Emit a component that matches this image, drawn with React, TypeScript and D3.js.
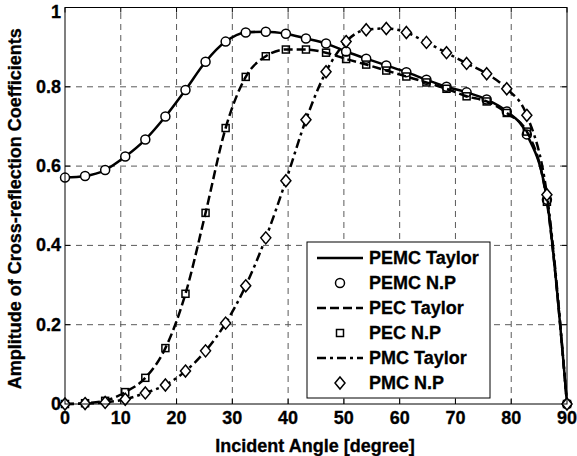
import React from "react";
import * as d3 from "d3";

const angles = [0, 3.6, 7.2, 10.8, 14.4, 18, 21.6, 25.2, 28.8, 32.4, 36, 39.6, 43.2, 46.8, 50.4, 54, 57.6, 61.2, 64.8, 68.4, 72, 75.6, 79.2, 82.8, 86.4, 90];
const pemc = [0.571, 0.575, 0.590, 0.624, 0.667, 0.725, 0.792, 0.863, 0.914, 0.937, 0.939, 0.934, 0.922, 0.909, 0.889, 0.871, 0.854, 0.837, 0.818, 0.800, 0.786, 0.768, 0.738, 0.680, 0.515, 0];
const pec = [0, 0.002, 0.008, 0.03, 0.066, 0.141, 0.278, 0.482, 0.696, 0.825, 0.877, 0.894, 0.894, 0.886, 0.870, 0.856, 0.841, 0.826, 0.811, 0.795, 0.776, 0.763, 0.734, 0.687, 0.51, 0];
const pmc = [0, 0.001, 0.004, 0.012, 0.028, 0.048, 0.083, 0.134, 0.204, 0.298, 0.419, 0.563, 0.717, 0.838, 0.914, 0.944, 0.947, 0.937, 0.912, 0.886, 0.859, 0.833, 0.795, 0.728, 0.528, 0];
const xTicks = [0, 10, 20, 30, 40, 50, 60, 70, 80, 90];
const yTicks = [0, 0.2, 0.4, 0.6, 0.8, 1];
const legendLabels = ["PEMC Taylor", "PEMC N.P", "PEC Taylor", "PEC N.P", "PMC Taylor", "PMC N.P"];

const W = 577, H = 456;
const L = 65, R = 567, T = 7.5, B = 404;
const FONT = "'Liberation Sans', Arial, sans-serif";
const FS = 18;

export default function App() {
  const x = d3.scaleLinear().domain([0, 90]).range([L, R]);
  const y = d3.scaleLinear().domain([0, 1]).range([B, T]);
  const line = (vals: number[]) =>
    d3.line<number>().x((_, i) => x(angles[i])).y((v) => y(v)).curve(d3.curveMonotoneX)(vals) || "";

  const dashPEC = "9,4";
  const dashPMC = "9,4,3,4";

  const circle = (cx: number, cy: number, k: string) => (
    <circle key={k} cx={cx} cy={cy} r={4.5} fill="white" stroke="black" strokeWidth={1.5} />
  );
  const square = (cx: number, cy: number, k: string) => (
    <rect key={k} x={cx - 3.5} y={cy - 3.5} width={7} height={7} fill="none" stroke="black" strokeWidth={1.5} />
  );
  const diamond = (cx: number, cy: number, k: string) => (
    <path key={k} d={`M${cx},${cy - 6}L${cx + 5},${cy}L${cx},${cy + 6}L${cx - 5},${cy}Z`} fill="white" stroke="black" strokeWidth={1.5} />
  );

  const legX = 307, legY = 242, legW = 183, legH = 156;
  const rowY = (i: number) => 258 + i * 25;
  const txt = { fontFamily: FONT, fontWeight: "bold" as const, fontSize: FS, stroke: "black", strokeWidth: 0.3 };

  return (
    <svg width={W} height={H} style={{ position: "absolute", left: 0, top: 0, background: "white" }}>
      <rect x={0} y={0} width={W} height={H} fill="white" />
      {/* grid */}
      {xTicks.slice(1, -1).map((t) => (
        <line key={"gx" + t} x1={x(t)} x2={x(t)} y1={B} y2={T} stroke="#5a5a5a" strokeWidth={1} strokeDasharray="6,5" />
      ))}
      {yTicks.slice(1, -1).map((t) => (
        <line key={"gy" + t} x1={L} x2={R} y1={y(t)} y2={y(t)} stroke="#5a5a5a" strokeWidth={1} strokeDasharray="6,5" />
      ))}
      {/* ticks */}
      {xTicks.map((t) => (
        <g key={"tx" + t}>
          <line x1={x(t)} x2={x(t)} y1={B} y2={B - 5} stroke="black" />
          <line x1={x(t)} x2={x(t)} y1={T} y2={T + 5} stroke="black" />
        </g>
      ))}
      {yTicks.map((t) => (
        <g key={"ty" + t}>
          <line x1={L} x2={L + 5} y1={y(t)} y2={y(t)} stroke="black" />
          <line x1={R} x2={R - 5} y1={y(t)} y2={y(t)} stroke="black" />
        </g>
      ))}
      {/* series */}
      <path d={line(pemc)} fill="none" stroke="black" strokeWidth={2.5} />
      {pemc.map((v, i) => circle(x(angles[i]), y(v), "c" + i))}
      <path d={line(pec)} fill="none" stroke="black" strokeWidth={2.5} strokeDasharray={dashPEC} />
      {pec.map((v, i) => square(x(angles[i]), y(v), "s" + i))}
      <path d={line(pmc)} fill="none" stroke="black" strokeWidth={2.5} strokeDasharray={dashPMC} />
      {pmc.map((v, i) => diamond(x(angles[i]), y(v), "d" + i))}
      {/* axes box */}
      <rect x={L} y={T} width={R - L} height={B - T} fill="none" stroke="black" strokeWidth={1} />
      {/* tick labels */}
      {xTicks.map((t) => (
        <text key={"lx" + t} x={x(t)} y={B + 20} textAnchor="middle" {...txt}>
          {t}
        </text>
      ))}
      {yTicks.map((t) => (
        <text key={"ly" + t} x={L - 4} y={t === 1 ? 17.5 : y(t) + 6} textAnchor="end" {...txt}>
          {t === 0 ? "0" : t === 1 ? "1" : t.toFixed(1)}
        </text>
      ))}
      {/* axis titles */}
      <text x={(L + R) / 2 - 1} y={446 + 6} textAnchor="middle" {...txt}>
        Incident Angle [degree]
      </text>
      <text transform={`translate(21,${(T + B) / 2 + 3}) rotate(-90)`} textAnchor="middle" {...txt}>
        Amplitude of Cross-reflection Coefficients
      </text>
      {/* legend */}
      <rect x={legX} y={legY} width={legW} height={legH} fill="white" stroke="black" strokeWidth={1} />
      {legendLabels.map((lab, i) => {
        const cy = rowY(i);
        let sample: React.ReactNode = null;
        if (i === 0) sample = <line x1={317} x2={363} y1={cy} y2={cy} stroke="black" strokeWidth={2.5} />;
        if (i === 2) sample = <line x1={317} x2={363} y1={cy} y2={cy} stroke="black" strokeWidth={2.5} strokeDasharray={dashPEC} />;
        if (i === 4) sample = <line x1={317} x2={363} y1={cy} y2={cy} stroke="black" strokeWidth={2.5} strokeDasharray={dashPMC} />;
        if (i === 1) sample = circle(340, cy, "lc");
        if (i === 3) sample = square(340, cy, "ls");
        if (i === 5) sample = diamond(340, cy, "ld");
        return (
          <g key={"leg" + i}>
            {sample}
            <text x={369} y={cy + 6} {...txt}>
              {lab}
            </text>
          </g>
        );
      })}
    </svg>
  );
}
